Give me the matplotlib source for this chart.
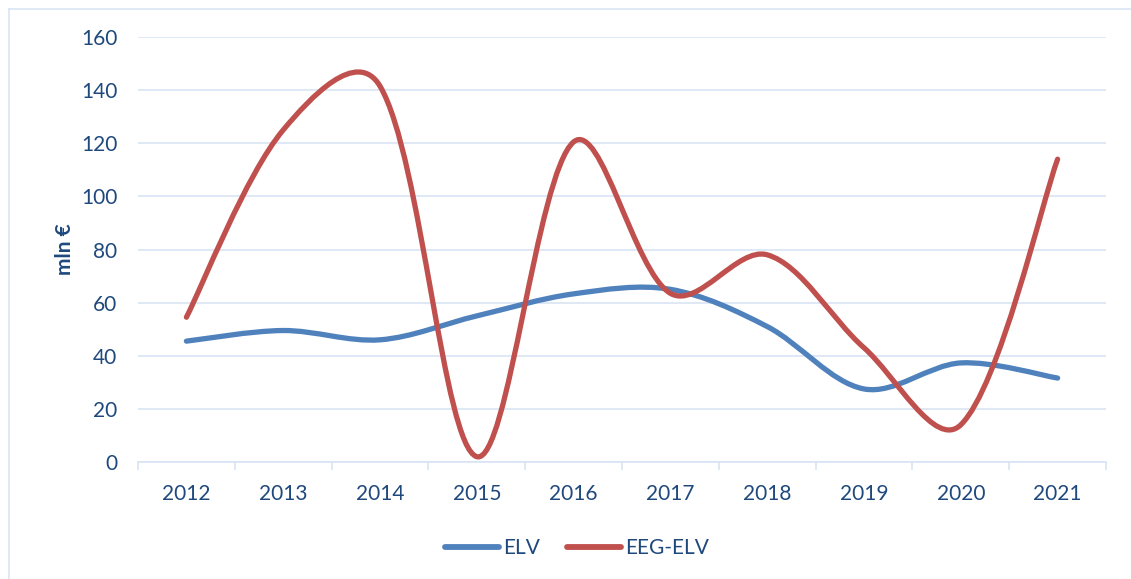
import numpy as np
import matplotlib
matplotlib.use("Agg")
import matplotlib.pyplot as plt
from matplotlib.path import Path
from matplotlib.patches import PathPatch
from matplotlib.lines import Line2D

# values
years = ["2012", "2013", "2014", "2015", "2016", "2017", "2018", "2019", "2020", "2021"]
elv = [45.5, 49.5, 46, 55, 63.3, 65, 51, 27.5, 37.3, 31.6]
eeg_elv = [54.5, 125, 141.5, 2, 120.5, 63.5, 78, 43, 14, 114]

blue = "#4f81bd"
red = "#c0504d"
text_col = "#1f497d"
grid_col = "#d9e4f4"

plt.rcParams['font.family'] = ['Lato', 'DejaVu Sans']

fig = plt.figure(figsize=(11.31, 5.79), dpi=100)
ax = fig.add_axes([138 / 1131, 1 - 462 / 579, (1106 - 138) / 1131, (462 - 37) / 579])
ax.set_xlim(-0.5, len(years) - 0.5)
ax.set_ylim(0, 160)


def smooth_path(ys):
    # excel-like bezier smoothing, control points partly scaled by segment length in pixels
    xs = np.arange(len(ys), dtype=float)
    pts = np.column_stack([xs, np.array(ys, dtype=float)])
    px = ax.transData.transform(pts)
    n = len(pts)
    verts = [tuple(pts[0])]
    codes = [Path.MOVETO]
    for i in range(n - 1):
        i0 = max(i - 1, 0)
        i3 = min(i + 2, n - 1)
        d01 = np.linalg.norm(px[i] - px[i0])
        d12 = np.linalg.norm(px[i + 1] - px[i])
        d23 = np.linalg.norm(px[i3] - px[i + 1])
        t1 = pts[i + 1] - pts[i0]
        t2 = pts[i3] - pts[i]
        f1 = (d12 / (d01 + d12) / 3 + 1 / 6) / 2 if i0 != i else 1 / 6
        f2 = (d12 / (d12 + d23) / 3 + 1 / 6) / 2 if i3 != i + 1 else 1 / 6
        c1 = pts[i] + t1 * f1
        c2 = pts[i + 1] - t2 * f2
        verts += [tuple(c1), tuple(c2), tuple(pts[i + 1])]
        codes += [Path.CURVE4, Path.CURVE4, Path.CURVE4]
    return Path(verts, codes)


for vals, col in [(elv, blue), (eeg_elv, red)]:
    patch = PathPatch(smooth_path(vals), facecolor="none", edgecolor=col,
                      lw=3.8, capstyle="round", joinstyle="round", zorder=3)
    ax.add_patch(patch)

ax.set_yticks(range(0, 161, 20))
ax.set_xticks(np.arange(len(years)))
ax.set_xticklabels(years)
ax.set_xticks(np.arange(len(years) + 1) - 0.5, minor=True)
ax.grid(axis="y", color=grid_col, lw=1.2)
ax.set_axisbelow(True)
for s in ["top", "right", "left"]:
    ax.spines[s].set_visible(False)
ax.spines["bottom"].set_color(grid_col)
ax.spines["bottom"].set_linewidth(1.2)
ax.tick_params(axis="y", length=0, pad=15, labelsize=15, labelcolor=text_col)
ax.tick_params(axis="x", which="major", length=0, pad=16, labelsize=15, labelcolor=text_col)
ax.tick_params(axis="x", which="minor", length=6, width=1.2, color=grid_col)
ax.set_ylabel("mln €", fontsize=15, fontweight="bold", color=text_col, labelpad=4)

handles = [Line2D([], [], color=blue, lw=4.2, solid_capstyle="round"),
           Line2D([], [], color=red, lw=4.2, solid_capstyle="round")]
fig.legend(handles, ["ELV", "EEG-ELV"], loc="center", bbox_to_anchor=(0.51, 1 - 548 / 579),
           ncol=2, frameon=False, fontsize=15, handlelength=2.6, handletextpad=0.2,
           columnspacing=1.3, labelcolor=text_col)

# light frame at the top and left edges
fig.add_artist(Line2D([8.5 / 1131, 1], [1 - 9 / 579, 1 - 9 / 579], color=grid_col, lw=1.2))
fig.add_artist(Line2D([8.5 / 1131, 8.5 / 1131], [0, 1 - 9 / 579], color=grid_col, lw=1.2))

fig.savefig("out.png", dpi=100)
